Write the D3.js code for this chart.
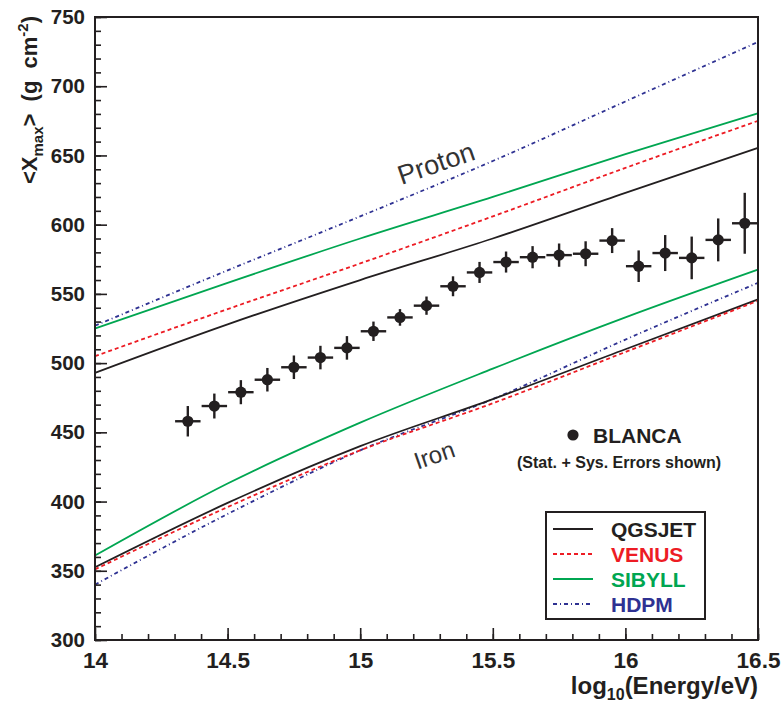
<!DOCTYPE html>
<html>
<head>
<meta charset="utf-8">
<script src="https://cdn.jsdelivr.net/npm/d3@7/dist/d3.min.js"></script>
<style>
  html, body { margin: 0; padding: 0; background: #fff; }
  svg { display: block; font-family: "Liberation Sans", Arial, Helvetica, sans-serif; }
</style>
</head>
<body>
<svg id="chart" width="784" height="702"></svg>
<script>
// Energy grid for the model predictions (log10 E/eV)
const modelEnergy = [14, 14.5, 15, 15.5, 16, 16.5];

// Mean Xmax predictions (g cm^-2) for proton and iron primaries
const qgsjetProton = [493, 528, 560, 590, 623, 655.5];
const venusProton  = [505, 539, 572, 606, 641, 675];
const sibyllProton = [525, 558, 590, 620, 651, 680.5];
const hdpmProton   = [527, 567, 606, 646, 689, 732];
const qgsjetIron   = [352.5, 399, 440, 474, 510, 546];
const venusIron    = [351, 396, 437, 471, 508, 545];
const sibyllIron   = [361, 413, 457, 496, 533, 567.5];
const hdpmIron     = [340, 391, 437, 474, 517, 558];

// BLANCA measurements
const blancaEnergy = [14.35, 14.45, 14.55, 14.65, 14.75, 14.85, 14.95, 15.05, 15.15, 15.25, 15.35,
                      15.45, 15.55, 15.65, 15.75, 15.85, 15.95, 16.05, 16.15, 16.25, 16.35, 16.45];
const blancaXmax   = [458, 469, 479, 488, 497, 504, 511, 523, 533, 541.5, 555.5,
                      565.5, 573, 576.5, 578, 579, 588.5, 570, 579.5, 576, 589, 601];
const blancaError  = [11, 9, 8.7, 8.5, 8.5, 8.5, 8.5, 7, 6, 6.6, 7.2,
                      7.6, 7.6, 8, 8.4, 9, 9, 11.4, 13, 15.4, 15.5, 22];
const binHalfWidth = 0.048;

// Axis ticks
const xMajorTicks = [14, 14.5, 15, 15.5, 16, 16.5];
const xMinorTicks = d3.range(140, 166).map(v => v / 10);
const yMajorTicks = [300, 350, 400, 450, 500, 550, 600, 650, 700, 750];
const yMinorTicks = d3.range(300, 751, 10);

const models = [
  { name: "QGSJET", color: "#231f20", dash: null,      proton: qgsjetProton, iron: qgsjetIron },
  { name: "VENUS",  color: "#ed1c24", dash: "4,3",     proton: venusProton,  iron: venusIron },
  { name: "SIBYLL", color: "#00a651", dash: null,      proton: sibyllProton, iron: sibyllIron },
  { name: "HDPM",   color: "#2e3192", dash: "4,3,1,3", proton: hdpmProton,   iron: hdpmIron }
];
// draw order: back to front
const drawOrder = ["HDPM", "SIBYLL", "QGSJET", "VENUS"];

const svg = d3.select("#chart");
const pLeft = 95, pRight = 758, pTop = 17, pBottom = 640;

const x = d3.scaleLinear().domain([14, 16.5]).range([pLeft, pRight]);
const y = d3.scaleLinear().domain([300, 750]).range([pBottom, pTop]);

const plot = svg.append("g");

// model curves
const line = d3.line()
  .x((d, i) => x(modelEnergy[i]))
  .y(d => y(d))
  .curve(d3.curveMonotoneX);

drawOrder.forEach(name => {
  const m = models.find(mm => mm.name === name);
  [m.proton, m.iron].forEach(vals => {
    plot.append("path")
      .attr("d", line(vals))
      .attr("fill", "none")
      .attr("stroke", m.color)
      .attr("stroke-width", 1.8)
      .attr("stroke-dasharray", m.dash);
  });
});

// BLANCA points with error bars
const pts = plot.append("g");
blancaEnergy.forEach((e, i) => {
  const cx = x(e), cy = y(blancaXmax[i]);
  pts.append("line")
    .attr("x1", x(e - binHalfWidth)).attr("x2", x(e + binHalfWidth))
    .attr("y1", cy).attr("y2", cy)
    .attr("stroke", "#231f20").attr("stroke-width", 2.4);
  pts.append("line")
    .attr("x1", cx).attr("x2", cx)
    .attr("y1", y(blancaXmax[i] - blancaError[i])).attr("y2", y(blancaXmax[i] + blancaError[i]))
    .attr("stroke", "#231f20").attr("stroke-width", 2.4);
  pts.append("circle")
    .attr("cx", cx).attr("cy", cy).attr("r", 5.6)
    .attr("fill", "#231f20");
});

// axes (ticks pointing inward)
const yAxisMajor = d3.axisLeft(y).tickValues(yMajorTicks).tickSize(-12).tickPadding(10)
  .tickFormat(d3.format("d"));
const yAxisMinor = d3.axisLeft(y).tickValues(yMinorTicks).tickSize(-6).tickFormat("");
const xAxisMajor = d3.axisBottom(x).tickValues(xMajorTicks).tickSize(-12).tickPadding(12)
  .tickFormat(d => d3.format("")(d));
const xAxisMinor = d3.axisBottom(x).tickValues(xMinorTicks).tickSize(-6).tickFormat("");

function styleAxis(size) {
  return g => {
    g.select(".domain").remove();
    g.selectAll(".tick line").attr("stroke", "#231f20").attr("stroke-width", 1.6);
    g.selectAll("text").attr("fill", "#231f20").attr("font-weight", "bold")
      .attr("font-size", size).attr("font-family", "Liberation Sans, Arial, sans-serif");
  };
}

svg.append("g").attr("transform", `translate(${pLeft},0)`).call(yAxisMinor).call(styleAxis(20));
svg.append("g").attr("transform", `translate(${pLeft},0)`).call(yAxisMajor).call(styleAxis(20.5));
svg.append("g").attr("transform", `translate(0,${pBottom})`).call(xAxisMinor).call(styleAxis(22));
svg.append("g").attr("transform", `translate(0,${pBottom})`).call(xAxisMajor).call(styleAxis(22.5));

// frame
svg.append("rect")
  .attr("x", pLeft).attr("y", pTop)
  .attr("width", pRight - pLeft).attr("height", pBottom - pTop)
  .attr("fill", "none").attr("stroke", "#231f20").attr("stroke-width", 2);

// axis titles
const yTitle = svg.append("text")
  .attr("transform", `translate(37,100) rotate(-90)`)
  .attr("text-anchor", "middle")
  .attr("font-weight", "bold").attr("font-size", 22).attr("fill", "#231f20")
  .attr("xml:space", "preserve");
yTitle.append("tspan").text("<X");
yTitle.append("tspan").attr("font-size", 15).attr("dy", 6).text("max");
yTitle.append("tspan").attr("dy", -6).text(">  (g  cm");
yTitle.append("tspan").attr("font-size", 15).attr("dy", -9).text("-2");
yTitle.append("tspan").attr("dy", 9).text(")");

const xTitle = svg.append("text")
  .attr("x", pRight).attr("y", 694)
  .attr("text-anchor", "end")
  .attr("font-weight", "bold").attr("font-size", 24).attr("fill", "#231f20");
xTitle.append("tspan").text("log");
xTitle.append("tspan").attr("font-size", 16).attr("dy", 6).text("10");
xTitle.append("tspan").attr("dy", -6).text("(Energy/eV)");

// curve labels
svg.append("text")
  .attr("transform", `translate(439,172) rotate(-19)`)
  .attr("text-anchor", "middle")
  .attr("font-size", 27).attr("fill", "#333")
  .text("Proton");
svg.append("text")
  .attr("transform", `translate(437,463) rotate(-19)`)
  .attr("text-anchor", "middle")
  .attr("font-size", 24).attr("fill", "#333")
  .text("Iron");

// BLANCA key
svg.append("circle").attr("cx", 573).attr("cy", 435).attr("r", 5.6).attr("fill", "#231f20");
svg.append("text").attr("x", 593).attr("y", 443)
  .attr("font-weight", "bold").attr("font-size", 21).attr("fill", "#231f20")
  .text("BLANCA");
svg.append("text").attr("x", 619).attr("y", 468)
  .attr("text-anchor", "middle")
  .attr("font-weight", "bold").attr("font-size", 16).attr("fill", "#231f20")
  .text("(Stat. + Sys. Errors shown)");

// model legend
const lg = svg.append("g");
lg.append("rect")
  .attr("x", 546).attr("y", 512).attr("width", 159).attr("height", 107)
  .attr("fill", "#fff").attr("stroke", "#231f20").attr("stroke-width", 2);
const rowY = [529, 554, 579, 604];
models.forEach((m, i) => {
  lg.append("line")
    .attr("x1", 553).attr("x2", 593).attr("y1", rowY[i]).attr("y2", rowY[i])
    .attr("stroke", m.color).attr("stroke-width", 1.8)
    .attr("stroke-dasharray", m.dash);
  lg.append("text")
    .attr("x", 611).attr("y", rowY[i] + 8)
    .attr("font-weight", "bold").attr("font-size", 21)
    .attr("fill", m.color)
    .text(m.name);
});
</script>
</body>
</html>
